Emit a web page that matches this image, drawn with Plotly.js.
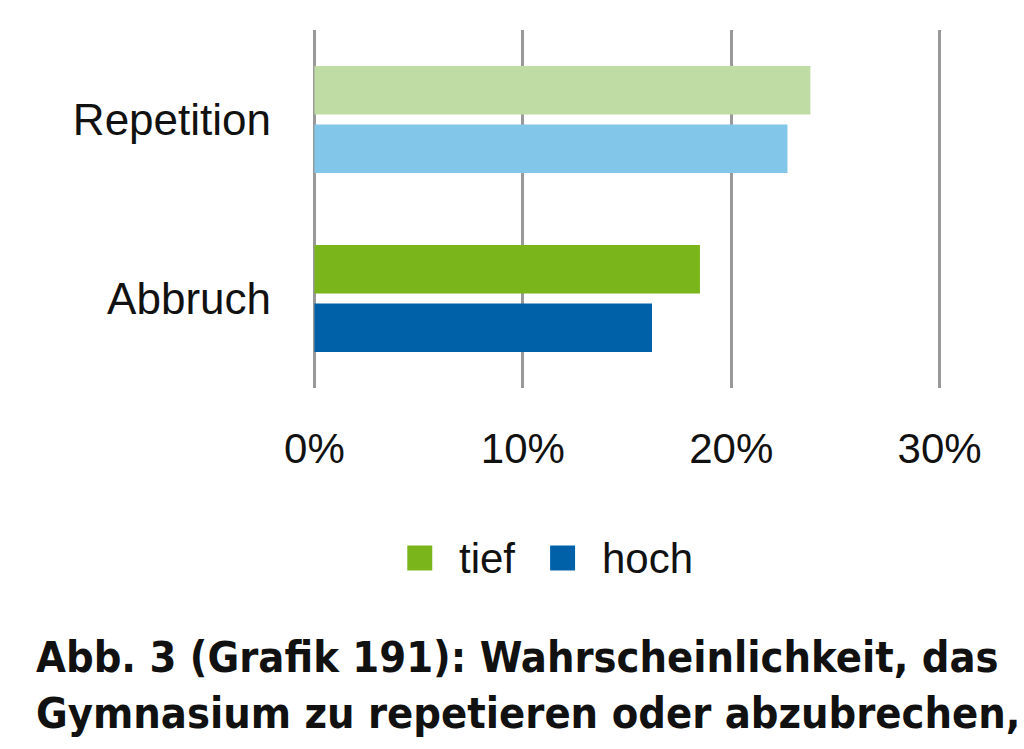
<!DOCTYPE html>
<html>
<head>
<meta charset="utf-8">
<script src="https://cdn.plot.ly/plotly-3.0.1.min.js"></script>
<style>
html,body{margin:0;padding:0;background:#fff;}
#chart{width:1024px;height:749px;}
</style>
</head>
<body>
<div id="chart"></div>
<script>
// Data
const categories = ['Abbruch', 'Repetition'];
const seriesNames = ['tief', 'hoch'];
const tiefValues = [18.5, 23.8];
const hochValues = [16.2, 22.7];
const tiefColors = ['#7ab51b', '#bfdca4'];
const hochColors = ['#0060a8', '#82c6ea'];
const legendColors = ['#7ab51b', '#0060a8'];
const tickValues = [0, 10, 20, 30];
const tickLabels = ['0%', '10%', '20%', '30%'];
const captionLines = [
  'Abb. 3 (Grafik 191): Wahrscheinlichkeit, das',
  'Gymnasium zu repetieren oder abzubrechen,'
];

const FONT = '"Liberation Sans", Arial, sans-serif';
const CAPFONT = '"DejaVu Sans Condensed", "Liberation Sans", sans-serif';

// geometry (pixels): 0% at X0, 30% at X30
const X0 = 314, X30 = 940, T = 30, B = 388;
const PAD = 0.5; // axis range padding (in %) so edge gridlines are visible
const ppu = (X30 - X0) / 30;
const L = X0 - PAD * ppu, R = X30 + PAD * ppu;
const px = x => (x - L) / (R - L);
const py = y => (B - y) / (B - T);

const traces = [
  {
    type: 'bar', orientation: 'h', name: seriesNames[1],
    y: categories, x: hochValues,
    marker: {color: hochColors, line: {width: 0}},
    showlegend: false, hoverinfo: 'x+y'
  },
  {
    type: 'bar', orientation: 'h', name: seriesNames[0],
    y: categories, x: tiefValues,
    marker: {color: tiefColors, line: {width: 0}},
    showlegend: false, hoverinfo: 'x+y'
  }
];

// manual legend (large squares)
const legendItems = [
  {sq: 407, tx: 457},
  {sq: 550, tx: 600}
];
const SQ = 25, LEGY = 558;
const shapes = legendItems.map((it, i) => ({
  type: 'rect', xref: 'paper', yref: 'paper',
  x0: px(it.sq), x1: px(it.sq + SQ),
  y0: py(LEGY + SQ / 2), y1: py(LEGY - SQ / 2),
  fillcolor: legendColors[i], line: {width: 0}
}));
const annotations = legendItems.map((it, i) => ({
  xref: 'paper', yref: 'paper', x: px(it.tx), y: py(LEGY),
  xanchor: 'left', yanchor: 'middle', showarrow: false,
  text: seriesNames[i], font: {family: FONT, size: 42, color: '#111'}
}));
annotations.push({
  xref: 'paper', yref: 'paper', x: px(33), y: py(630),
  xanchor: 'left', yanchor: 'top', align: 'left', showarrow: false,
  text: '<b>' + captionLines.join('<br>') + '</b>',
  font: {family: CAPFONT, size: 43, color: '#111'}
});

const layout = {
  width: 1024, height: 749,
  margin: {l: L, r: 1024 - R, t: T, b: 749 - B, pad: 0},
  paper_bgcolor: '#fff', plot_bgcolor: '#fff',
  barmode: 'group', bargap: 0.346, bargroupgap: 0.17,
  showlegend: false,
  xaxis: {
    range: [-PAD, 30 + PAD], tickvals: tickValues, ticktext: tickLabels,
    showgrid: true, gridcolor: '#999999', gridwidth: 3,
    zeroline: false, showline: false, ticks: '',
    ticklabelstandoff: 32,
    tickfont: {family: FONT, size: 42, color: '#111'},
    fixedrange: true
  },
  yaxis: {
    type: 'category', range: [-0.5, 1.5],
    showgrid: false, zeroline: false, showline: false, ticks: '',
    ticklabelstandoff: Math.round(42 - PAD * ppu),
    tickfont: {family: FONT, size: 44, color: '#111'},
    fixedrange: true
  },
  shapes: shapes,
  annotations: annotations
};

Plotly.newPlot('chart', traces, layout, {displayModeBar: false, staticPlot: true});
</script>
</body>
</html>
